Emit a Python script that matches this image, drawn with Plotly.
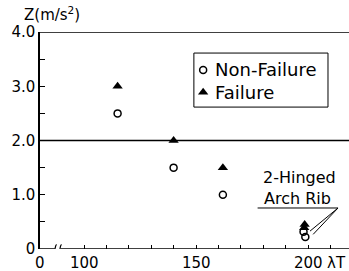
import plotly.graph_objects as go

# Data
fail_lambda = [115, 140, 162, 198.5, 198.3]
fail_z = [3.0, 2.0, 1.5, 0.45, 0.39]
nonfail_lambda = [115, 140, 162, 198.0, 198.8]
nonfail_z = [2.5, 1.5, 1.0, 0.32, 0.22]

x_tick_vals = [100, 150, 200]
x_tick_text = ["100", "150", "200"]
y_tick_vals = [0, 1, 2, 3, 4]
y_tick_text = ["0", "1.0", "2.0", "3.0", "4.0"]
legend_names = ["Non-Failure", "Failure"]

X0 = 80.36   # left edge of axis (labelled 0, broken scale)
X1 = 218.3
FONT = "DejaVu Sans"
TICKSIZE = 15

fig = go.Figure()
fig.add_trace(go.Scatter(x=nonfail_lambda, y=nonfail_z, mode="markers", name=legend_names[0],
                         marker=dict(symbol="circle-open", size=7, color="black", line=dict(width=1.5))))
fig.add_trace(go.Scatter(x=fail_lambda, y=fail_z, mode="markers", name=legend_names[1],
                         marker=dict(symbol="triangle-up", size=9, color="black")))

# legend keys on an overlay axis (0..1 over the plot area)
fig.add_trace(go.Scatter(x=[0.528], y=[0.825], xaxis="x2", yaxis="y2", mode="markers", showlegend=False,
                         hoverinfo="skip",
                         marker=dict(symbol="circle-open", size=7, color="black", line=dict(width=1.5))))
fig.add_trace(go.Scatter(x=[0.528], y=[0.722], xaxis="x2", yaxis="y2", mode="markers", showlegend=False,
                         hoverinfo="skip",
                         marker=dict(symbol="triangle-up", size=9, color="black")))

fig.update_layout(
    width=349, height=271,
    margin=dict(l=40, r=0, t=32, b=22),
    paper_bgcolor="white", plot_bgcolor="white",
    font=dict(family=FONT, size=14, color="black"),
    showlegend=False,
    xaxis=dict(range=[X0, X1], showgrid=False, zeroline=False,
               showline=False, tickvals=x_tick_vals, showticklabels=False,
               ticks="inside", ticklen=4, tickcolor="black",
               minor=dict(tickvals=list(range(110, 220, 10)), ticks="inside", ticklen=4, tickcolor="black")),
    yaxis=dict(range=[0, 4], showgrid=False, zeroline=False,
               showline=True, linecolor="black", linewidth=1.5,
               tickvals=y_tick_vals, ticktext=y_tick_text,
               ticks="inside", ticklen=5, tickcolor="black", tickfont=dict(size=TICKSIZE),
               minor=dict(tickvals=[0.5, 1.5, 2.5, 3.5], ticks="inside", ticklen=5, tickcolor="black")),
    xaxis2=dict(range=[0, 1], overlaying="x", visible=False, fixedrange=True),
    yaxis2=dict(range=[0, 1], overlaying="y", visible=False, fixedrange=True),
)

# x tick labels
for v, t in zip([X0] + x_tick_vals, ["0"] + x_tick_text):
    fig.add_annotation(x=v, y=0, xref="x", yref="y", text=t, showarrow=False,
                       yanchor="middle", yshift=-14, font=dict(size=TICKSIZE))
fig.add_annotation(x=1.0, y=0, xref="paper", yref="y", text="λT", showarrow=False,
                   xanchor="right", yanchor="middle", yshift=-14, xshift=-1, font=dict(size=TICKSIZE))

# axis line with break
fig.add_shape(type="line", xref="x", yref="y", x0=X0, x1=87.0, y0=0, y1=0, line=dict(color="black", width=1.5))
fig.add_shape(type="line", xref="x", yref="y", x0=89.5, x1=X1, y0=0, y1=0, line=dict(color="black", width=1.5))
for bx in (87.0, 89.2):
    fig.add_shape(type="path", xref="x", yref="y",
                  path=f"M {bx-0.8},-0.08 C {bx-0.2},-0.08 {bx-0.2},0.0 {bx},0.0 C {bx+0.2},0.0 {bx+0.2},0.08 {bx+0.8},0.08",
                  line=dict(color="black", width=1.2))
# top line and 2.0 line
fig.add_shape(type="line", xref="x", yref="y", x0=X0, x1=X1, y0=4, y1=4, line=dict(color="black", width=1.5))
fig.add_shape(type="line", xref="x", yref="y", x0=X0, x1=X1, y0=2, y1=2, line=dict(color="black", width=1.5))

# legend box
fig.add_shape(type="rect", xref="paper", yref="paper", x0=0.498, x1=0.932, y0=0.654, y1=0.903,
              line=dict(color="black", width=1), fillcolor="rgba(0,0,0,0)")
fig.add_annotation(x=0.560, y=0.825, xref="paper", yref="paper", text=legend_names[0], showarrow=False,
                   xanchor="left", yanchor="middle", font=dict(size=18))
fig.add_annotation(x=0.560, y=0.722, xref="paper", yref="paper", text=legend_names[1], showarrow=False,
                   xanchor="left", yanchor="middle", font=dict(size=18))

# 2-Hinged Arch Rib label with pointer
fig.add_annotation(x=196, y=1.31, text="2-Hinged", showarrow=False, xref="x", yref="y", font=dict(size=16))
fig.add_annotation(x=195.5, y=0.93, text="Arch Rib", showarrow=False, xref="x", yref="y", font=dict(size=16))
fig.add_shape(type="line", xref="x", yref="y", x0=177.5, x1=213.4, y0=0.756, y1=0.756, line=dict(color="black", width=1))
fig.add_shape(type="line", xref="x", yref="y", x0=213.4, x1=200.9, y0=0.756, y1=0.33, line=dict(color="black", width=1))
fig.add_shape(type="line", xref="x", yref="y", x0=213.4, x1=202.3, y0=0.756, y1=0.27, line=dict(color="black", width=1))

# y axis title
fig.add_annotation(x=0.0, y=1.0, xref="paper", yref="paper", xshift=-18, yshift=6,
                   text="Z(m/s<sup>2</sup>)", showarrow=False, xanchor="left", yanchor="bottom", font=dict(size=15))

fig.write_html("out.html", config={"displayModeBar": False},
               post_script="document.body.style.margin='0';document.body.style.overflow='hidden';")
